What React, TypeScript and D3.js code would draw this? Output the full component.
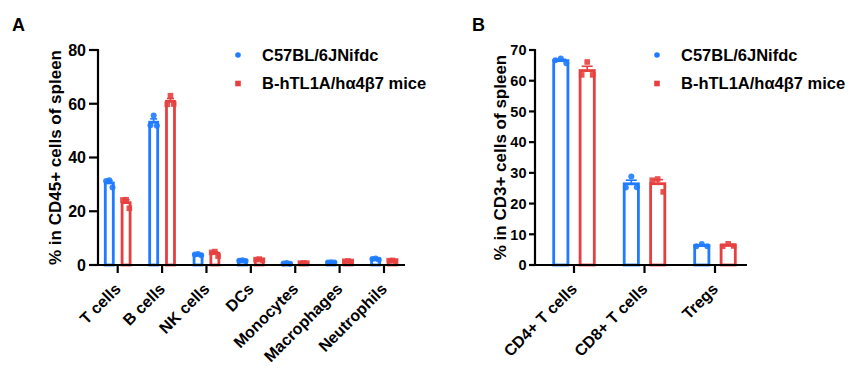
import React from "react";
import * as d3 from "d3";

const catsA = ["T cells", "B cells", "NK cells", "DCs", "Monocytes", "Macrophages", "Neutrophils"];
const wtA = [
  [31.5, 31.3, 28.8],
  [55.6, 52.0, 51.8],
  [4.1, 3.9, 3.6],
  [1.8, 1.6, 1.5],
  [0.7, 0.6, 0.5],
  [1.0, 0.9, 0.9],
  [2.4, 2.2, 2.0],
];
const tgA = [
  [24.3, 24.2, 21.1],
  [63.0, 59.8, 59.9],
  [5.0, 4.7, 3.3],
  [2.2, 2.0, 1.8],
  [0.8, 0.7, 0.7],
  [1.5, 1.4, 1.3],
  [1.7, 1.6, 1.5],
];
const ticksA = [0, 20, 40, 60, 80];

const catsB = ["CD4+ T cells", "CD8+ T cells", "Tregs"];
const wtB = [
  [67.2, 66.7, 65.7],
  [28.8, 25.2, 25.3],
  [6.8, 6.1, 6.1],
];
const tgB = [
  [66.1, 61.9, 61.9],
  [28.0, 27.6, 23.8],
  [6.9, 6.1, 6.2],
];
const ticksB = [0, 10, 20, 30, 40, 50, 60, 70];

const seriesNames = ["C57BL/6JNifdc", "B-hTL1A/hα4β7 mice"];
const BLUE = "#1F7BFF";
const RED = "#E5403F";
const FONT = "'Liberation Sans', Arial, sans-serif";

type PanelProps = {
  letter: string;
  letterX: number;
  cats: string[];
  wt: number[][];
  tg: number[][];
  ticks: number[];
  yMax: number;
  x0: number;
  x1: number;
  firstTick: number;
  lastTick: number;
  barW: number;
  barOff: number;
  jitter: number;
  cap: number;
  yLabel: string;
  yLabelX: number;
  legendX: number;
  tickFont: number;
  tickLen: number;
  tickGap: number;
};

function Panel(p: PanelProps) {
  const y = d3.scaleLinear().domain([0, p.yMax]).range([265, 50]);
  const x = d3.scalePoint<string>().domain(p.cats).range([p.firstTick, p.lastTick]);
  const axisY = y(0);
  const groups = [
    { data: p.wt, color: BLUE, off: -p.barOff, shape: "circle" },
    { data: p.tg, color: RED, off: p.barOff, shape: "square" },
  ];
  const jit = [0, -p.jitter, p.jitter];
  return (
    <g>
      <text x={p.letterX} y={31} fontFamily={FONT} fontWeight="bold" fontSize={18}>
        {p.letter}
      </text>
      {groups.map((g, gi) =>
        p.cats.map((c, i) => {
          const vals = g.data[i];
          const m = d3.mean(vals)!;
          const sd = d3.deviation(vals)!;
          const sem = sd / Math.sqrt(vals.length);
          const cx = x(c)! + g.off;
          return (
            <g key={`${gi}-${i}`}>
              <rect
                x={cx - p.barW / 2}
                y={y(m)}
                width={p.barW}
                height={axisY - y(m)}
                fill="white"
                stroke={g.color}
                strokeWidth={2.8}
              />
              <line x1={cx} x2={cx} y1={y(m)} y2={y(m + sem)} stroke={g.color} strokeWidth={1.6} />
              <line x1={cx - p.cap / 2} x2={cx + p.cap / 2} y1={y(m + sem)} y2={y(m + sem)} stroke={g.color} strokeWidth={1.6} />
              {vals.map((v, k) =>
                g.shape === "circle" ? (
                  <circle key={k} cx={cx + jit[k]} cy={y(v)} r={3} fill={g.color} opacity={0.9} />
                ) : (
                  <rect key={k} x={cx + jit[k] - 2.8} y={y(v) - 2.8} width={5.6} height={5.6} fill={g.color} opacity={0.9} />
                )
              )}
            </g>
          );
        })
      )}
      {/* axes */}
      <line x1={p.x0} x2={p.x0} y1={y(p.yMax) - 1} y2={axisY} stroke="black" strokeWidth={2.2} />
      <line x1={p.x0 - p.tickLen} x2={p.x1} y1={axisY} y2={axisY} stroke="black" strokeWidth={2.2} />
      {p.ticks.map((t) => (
        <g key={t}>
          <line x1={p.x0 - p.tickLen} x2={p.x0} y1={y(t)} y2={y(t)} stroke="black" strokeWidth={2.2} />
          <text
            x={p.x0 - p.tickLen - p.tickGap}
            y={y(t)}
            dy="0.36em"
            textAnchor="end"
            fontFamily={FONT}
            fontWeight="bold"
            fontSize={p.tickFont}
          >
            {t}
          </text>
        </g>
      ))}
      {p.cats.map((c) => (
        <g key={c}>
          <line x1={x(c)!} x2={x(c)!} y1={axisY} y2={axisY + 8} stroke="black" strokeWidth={2.2} />
          <text
            transform={`translate(${x(c)! + 4},${axisY + 25}) rotate(-45)`}
            textAnchor="end"
            fontFamily={FONT}
            fontWeight="bold"
            fontSize={16}
          >
            {c}
          </text>
        </g>
      ))}
      <text
        transform={`translate(${p.yLabelX},${(y(p.yMax) + axisY) / 2}) rotate(-90)`}
        textAnchor="middle"
        fontFamily={FONT}
        fontWeight="bold"
        fontSize={17}
      >
        {p.yLabel}
      </text>
      {/* legend */}
      <circle cx={p.legendX} cy={55} r={2.8} fill={BLUE} />
      <text x={p.legendX + 24} y={60.5} fontFamily={FONT} fontWeight="bold" fontSize={16.5}>
        {seriesNames[0]}
      </text>
      <rect x={p.legendX - 2.8} y={83.5 - 2.8} width={5.6} height={5.6} fill={RED} />
      <text x={p.legendX + 24} y={89} fontFamily={FONT} fontWeight="bold" fontSize={16.5}>
        {seriesNames[1]}
      </text>
    </g>
  );
}

export default function App() {
  return (
    <svg
      width={849}
      height={378}
      viewBox="0 0 849 378"
      style={{ position: "absolute", left: 0, top: 0, background: "white" }}
    >
      <rect width={849} height={378} fill="white" />
      <Panel
        letter="A"
        letterX={12}
        cats={catsA}
        wt={wtA}
        tg={tgA}
        ticks={ticksA}
        yMax={80}
        x0={98}
        x1={405}
        firstTick={117.7}
        lastTick={384}
        barW={8}
        barOff={8.4}
        jitter={3.2}
        cap={7}
        yLabel="% in CD45+ cells of spleen"
        yLabelX={61}
        legendX={238}
        tickFont={16}
        tickLen={9}
        tickGap={3}
      />
      <Panel
        letter="B"
        letterX={472}
        cats={catsB}
        wt={wtB}
        tg={tgB}
        ticks={ticksB}
        yMax={70}
        x0={535}
        x1={747}
        firstTick={574}
        lastTick={715}
        barW={14.2}
        barOff={13.2}
        jitter={5.5}
        cap={11}
        yLabel="% in CD3+ cells of spleen"
        yLabelX={506}
        legendX={657}
        tickFont={14.5}
        tickLen={6}
        tickGap={2.5}
      />
    </svg>
  );
}
